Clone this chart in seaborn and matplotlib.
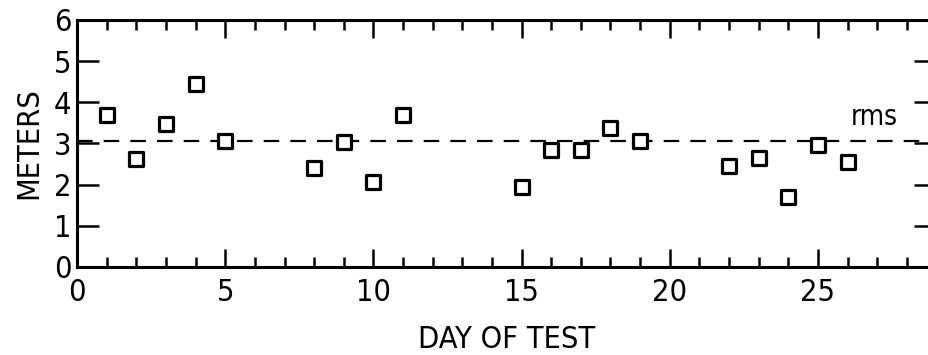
import matplotlib
matplotlib.use("Agg")
import matplotlib.pyplot as plt
import seaborn as sns
import pandas as pd
from matplotlib.ticker import MultipleLocator

days = [1, 2, 3, 4, 5, 8, 9, 10, 11, 15, 16, 17, 18, 19, 22, 23, 24, 25, 26]
meters = [3.70, 2.62, 3.47, 4.44, 3.07, 2.40, 3.04, 2.07, 3.70, 1.95, 2.84,
          2.84, 3.38, 3.05, 2.44, 2.64, 1.71, 2.96, 2.54]
rms_value = 3.05
x_label = "DAY OF TEST"
y_label = "METERS"
x_ticks = [0, 5, 10, 15, 20, 25]
y_ticks = [0, 1, 2, 3, 4, 5, 6]

sns.set_style("white")
plt.rcParams['font.family'] = ['DejaVu Sans']
plt.rcParams['font.stretch'] = 'condensed'
plt.rcParams['text.color'] = 'black'
plt.rcParams['axes.labelcolor'] = 'black'
plt.rcParams['xtick.color'] = 'black'
plt.rcParams['ytick.color'] = 'black'

df = pd.DataFrame({"day": days, "m": meters})

fig = plt.figure(figsize=(9.29, 3.55), dpi=100)
ax = fig.add_axes([0.083, 0.248, 0.925, 0.696])

ax.axhline(rms_value, color="black", lw=1.6, dashes=(7, 5), zorder=1)
sns.scatterplot(data=df, x="day", y="m", ax=ax, marker="s", s=115,
                facecolor="white", edgecolor="black", linewidth=2.3, zorder=3)

ax.set_xlim(0, 29)
ax.set_ylim(0, 6)
ax.set_xticks(x_ticks)
ax.set_yticks(y_ticks)
ax.xaxis.set_minor_locator(MultipleLocator(1))
ax.tick_params(axis="x", which="major", direction="in", length=13, width=1.8,
               top=True, bottom=True, labelsize=22, pad=8)
ax.tick_params(axis="x", which="minor", direction="in", length=7, width=1.8,
               top=True, bottom=True)
ax.tick_params(axis="y", which="major", direction="in", length=16, width=1.8,
               left=True, right=True, labelsize=22, pad=4)
for s in ax.spines.values():
    s.set_linewidth(2.2)
    s.set_color("black")

ax.set_xlabel(x_label, fontsize=22, labelpad=13)
ax.set_ylabel(y_label, fontsize=22, labelpad=8)
ax.text(26.9, 3.3, "rms", fontsize=20, ha="center", va="bottom")

fig.savefig("out.png", dpi=100)
